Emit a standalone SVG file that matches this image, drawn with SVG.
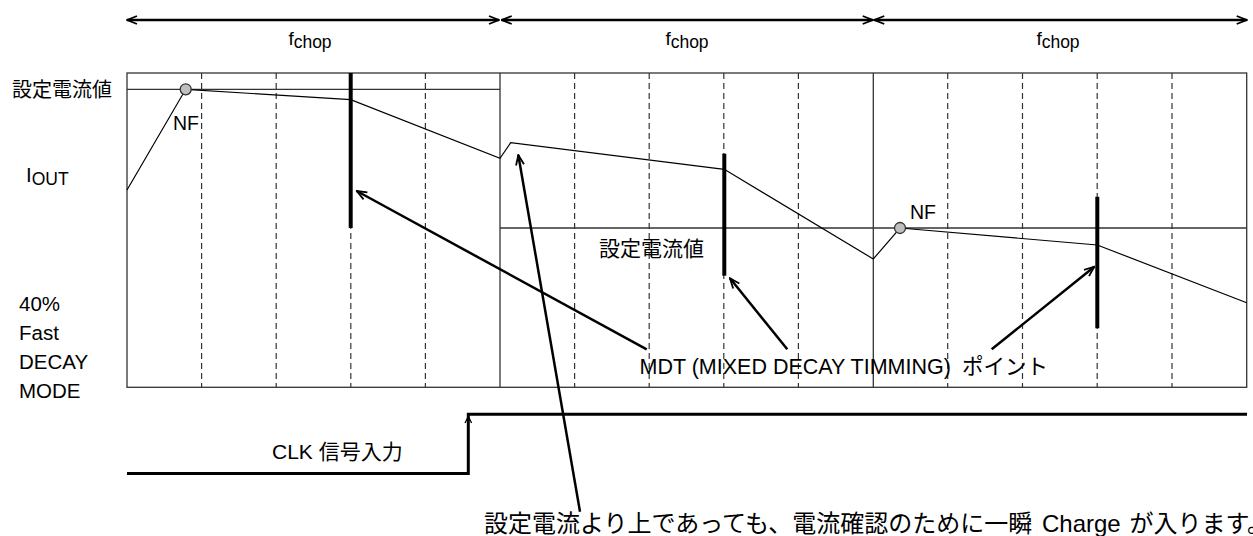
<svg xmlns="http://www.w3.org/2000/svg" width="1253" height="536" viewBox="0 0 1253 536">
<style>
.t{font-family:"Liberation Sans","Noto Sans CJK JP",sans-serif;fill:#000}
.grid{fill:none;stroke:#333;stroke-width:1.3}
.dash{stroke:#333;stroke-width:1.2;stroke-dasharray:6 4}
.wave{fill:none;stroke:#000;stroke-width:1.2}
.bar{stroke:#000;stroke-width:4}
.dim{stroke:#000;stroke-width:2.5;marker-start:url(#ah);marker-end:url(#ah)}
.call{stroke:#000;stroke-width:2.5;marker-end:url(#ah)}
.nf{fill:#bfbfbf;stroke:#333;stroke-width:1.3}
</style>
<defs>
<marker id="ah" viewBox="0 0 12 10" refX="11" refY="5" markerWidth="12" markerHeight="10" markerUnits="userSpaceOnUse" orient="auto-start-reverse">
<path d="M1,1 L11,5 L1,9" fill="none" stroke="#000" stroke-width="1.8"/>
</marker>
</defs>
<rect width="1253" height="536" fill="#fff"/>

<g id="frame">
<rect class="grid" x="127" y="73" width="1119.7" height="314.3"/>
<line class="grid" x1="500" y1="73" x2="500" y2="387.3"/>
<line class="grid" x1="873.3" y1="73" x2="873.3" y2="387.3"/>
<line class="dash" x1="201.6" y1="73" x2="201.6" y2="387"/>
<line class="dash" x1="276.2" y1="73" x2="276.2" y2="387"/>
<line class="dash" x1="350.8" y1="73" x2="350.8" y2="387"/>
<line class="dash" x1="425.4" y1="73" x2="425.4" y2="387"/>
<line class="dash" x1="574.6" y1="73" x2="574.6" y2="387"/>
<line class="dash" x1="649.2" y1="73" x2="649.2" y2="387"/>
<line class="dash" x1="723.8" y1="73" x2="723.8" y2="387"/>
<line class="dash" x1="798.4" y1="73" x2="798.4" y2="387"/>
<line class="dash" x1="947.7" y1="73" x2="947.7" y2="387"/>
<line class="dash" x1="1022.5" y1="73" x2="1022.5" y2="387"/>
<line class="dash" x1="1097.2" y1="73" x2="1097.2" y2="387"/>
<line class="dash" x1="1172" y1="73" x2="1172" y2="387"/>
<line class="grid" x1="127" y1="89.3" x2="500" y2="89.3"/>
<line class="grid" x1="500" y1="228" x2="1246.7" y2="228"/>
</g>

<g id="period-arrows">
<line class="dim" x1="127" y1="20" x2="499" y2="20"/>
<line class="dim" x1="501.7" y1="20" x2="872.7" y2="20"/>
<line class="dim" x1="874.3" y1="20" x2="1246.7" y2="20"/>
<text class="t" x="310" y="45" font-size="19" text-anchor="middle">f<tspan dy="3" font-size="17.5">chop</tspan></text>
<text class="t" x="687" y="45" font-size="19" text-anchor="middle">f<tspan dy="3" font-size="17.5">chop</tspan></text>
<text class="t" x="1058" y="45" font-size="19" text-anchor="middle">f<tspan dy="3" font-size="17.5">chop</tspan></text>
</g>

<g id="iout-waveform">
<polyline class="wave" points="127,190 185.7,89.3 350.7,99.7 500,158.3 510.7,142.7 724.3,169.3 873.3,259 900,228 1097.3,245 1246.7,302.7"/>
<circle class="nf" cx="185.7" cy="89.3" r="5.5"/>
<circle class="nf" cx="900" cy="228" r="5.5"/>
<text class="t" x="173" y="130" font-size="19.5">NF</text>
<text class="t" x="910" y="219" font-size="19.5">NF</text>
</g>

<g id="mdt-bars">
<line class="bar" x1="350.7" y1="73" x2="350.7" y2="228"/>
<line class="bar" x1="724.3" y1="153.7" x2="724.3" y2="275.7"/>
<line class="bar" x1="1097.3" y1="196.7" x2="1097.3" y2="328.3"/>
</g>

<g id="clk-signal">
<polyline fill="none" stroke="#000" stroke-width="3" points="127,473.5 468.3,473.5 468.3,414.3 1247,414.3"/>
<path d="M465,423 L468.3,416.5 L471.6,423" fill="none" stroke="#000" stroke-width="1.3"/>
<text class="t" x="272" y="458.5" font-size="21">CLK 信号入力</text>
</g>

<g id="left-labels">
<text class="t" x="12" y="97.4" font-size="20">設定電流値</text>
<text class="t" x="26" y="182" font-size="20.5">I<tspan dy="3" font-size="17.5">OUT</tspan></text>
<text class="t" x="19" y="311" font-size="20.5">40%</text>
<text class="t" x="19" y="340" font-size="20.5">Fast</text>
<text class="t" x="19" y="368.5" font-size="20.5">DECAY</text>
<text class="t" x="19" y="397.5" font-size="20.5">MODE</text>
</g>

<g id="setpoint-label">
<text class="t" x="599" y="256.3" font-size="21">設定電流値</text>
</g>

<g id="mdt-label">
<text class="t" x="639.5" y="374" font-size="21.5">MDT (MIXED DECAY TIMMING)<tspan x="962">ポイント</tspan></text>
</g>

<g id="charge-note">
<text class="t" x="484" y="532" font-size="24">設定電流より上であっても、電流確認のために一瞬<tspan x="1042">Charge</tspan><tspan x="1129.5">が入ります。</tspan></text>
</g>

<g id="connectors">
<line class="call" x1="646.7" y1="349.3" x2="356.7" y2="191"/>
<line class="call" x1="787.3" y1="349.3" x2="730" y2="278.3"/>
<line class="call" x1="991.7" y1="349.3" x2="1094.3" y2="266.7"/>
<line class="call" x1="580" y1="511.7" x2="518.3" y2="155"/>
</g>
</svg>
